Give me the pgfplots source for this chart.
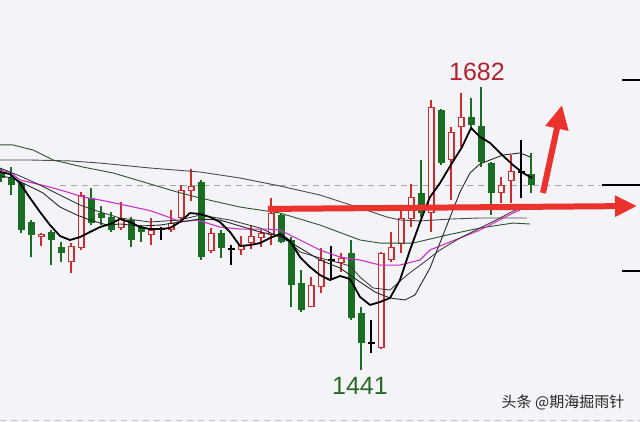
\documentclass[border=0pt]{standalone}
\usepackage{pgfplots}
\pgfplotsset{compat=1.18}
\usepackage{pgfplotstable}
\usepackage{fontspec}
\setmainfont{Liberation Sans}
\newfontfamily\cjk{Noto Sans CJK SC}
\usetikzlibrary{arrows.meta}

\definecolor{bgc}{RGB}{244,243,248}
\definecolor{upred}{RGB}{205,45,45}
\definecolor{dngreen}{RGB}{25,110,35}
\definecolor{magma}{RGB}{200,50,200}
\definecolor{ma60}{RGB}{40,85,45}
\definecolor{ma120}{RGB}{75,75,75}
\definecolor{arrowred}{RGB}{235,50,45}
\definecolor{hilab}{RGB}{178,34,45}
\definecolor{lolab}{RGB}{40,105,40}

% x = position, o h l c = open high low close
\pgfplotstableread{
x o h l c
1 1609 1613.2 1601.3 1604.7
11 1604.7 1614 1590.2 1598.7
21 1600.4 1601.3 1558 1560.5
31 1567.3 1569 1537.5 1556.2
51 1558.8 1560.5 1530.7 1552
61 1546 1550.3 1533.3 1541
91 1587.7 1596.2 1564.7 1566.4
101 1574.9 1580.9 1564.7 1570.7
111 1571.5 1575.8 1558.8 1560.5
131 1569 1571.5 1546 1552
141 1563 1564.7 1550.3 1558.8
201 1601.3 1603 1535 1537.5
221 1558 1560.5 1536.7 1545.2
281 1573.2 1574.9 1549.4 1550.3
291 1552 1554.5 1495 1513.7
301 1515.5 1526.5 1490.8 1492.5
351 1541 1552 1484 1485.7
361 1490 1495 1441.5 1464.4
421 1592 1620 1571.5 1574.9
441 1662.5 1663 1615.7 1617.4
471 1656.5 1672.7 1645.5 1649.7
481 1648.9 1682 1614 1618.3
491 1617.4 1618.3 1573.2 1592
531 1608.1 1626 1592 1598.7
}\downbars

\pgfplotstableread{
x o h l c
41 1554.5 1558 1546.9 1557.1
71 1533.3 1549.4 1524 1546.9
81 1545.2 1592.8 1543.5 1590.2
121 1562.2 1584.3 1560.5 1570.7
151 1556.2 1570.7 1547.7 1560.5
171 1560.5 1577.5 1558.8 1566.4
181 1570.7 1598.7 1569 1594.5
191 1593.6 1612.3 1585.1 1597.9
211 1542.6 1562.2 1541 1558
241 1543.5 1555.4 1539.2 1547.7
251 1549.4 1564.7 1544.3 1555.4
261 1553.7 1560.5 1546 1558
271 1556.2 1587.7 1547.7 1574.9
311 1495 1520.5 1495 1513.7
321 1512 1545.2 1507 1535
341 1532.4 1541 1524.8 1536.7
381 1460.2 1541.8 1459.3 1541
391 1535 1558.8 1533.3 1546
401 1548.6 1581.7 1541 1570.7
411 1569.8 1599.6 1563 1588.5
431 1574.9 1671 1558.8 1665
451 1620 1648 1586 1643.8
461 1648 1677 1631 1656.5
501 1592 1605.5 1583.4 1598.7
511 1602.1 1624.2 1583.4 1610.6
}\upbars

\pgfplotstableread{
x o h l c
161 1561.3 1563 1552 1560.5
231 1545.2 1547.7 1530.7 1543.5
331 1535.8 1546.9 1518 1534.1
371 1465.3 1484 1456 1463.6
521 1610.6 1637 1587.7 1609
}\dojis

\pgfplotsset{
  vbar/.style 2 args={draw=none, mark=none,
    error bars/.cd, y dir=plus, y explicit, error mark=none,
    error bar style={draw=#1, solid, line width=#2}},
}

\begin{document}
\begin{tikzpicture}
\begin{axis}[
  at={(0,0)}, anchor=south west,
  width=640pt, height=422pt, scale only axis,
  xmin=0, xmax=640, ymin=1397.3, ymax=1756,
  axis x line=none,
  axis y line*=right,
  axis line style={black!75, line width=0.8pt},
  xtick=\empty,
  ytick={1525.65,1688},
  yticklabels={},
  extra y ticks={1598.7},
  extra y tick labels={},
  extra y tick style={major tick length=38pt},
  tick align=inside,
  major tick length=18pt,
  tick style={black, line width=1.8pt},
  axis background/.style={fill=bgc},
]
% reference lines
\addplot[gray!70, line width=0.9pt, dash pattern=on 6pt off 5pt] coordinates {(60,1598.7) (600,1598.7)};
\addplot[gray!45, line width=0.8pt, dash pattern=on 6pt off 5pt] coordinates {(0,1399) (640,1399)};

% candles: wicks, then bodies
\addplot[vbar={dngreen}{1.2pt}] table[x=x, y=l, y error plus expr=\thisrow{h}-\thisrow{l}] {\downbars};
\addplot[vbar={dngreen}{7pt}] table[x=x, y=c, y error plus expr=\thisrow{o}-\thisrow{c}] {\downbars};
\addplot[vbar={upred}{1.2pt}] table[x=x, y=l, y error plus expr=\thisrow{h}-\thisrow{l}] {\upbars};
\addplot[vbar={upred}{7pt}] table[x=x, y=o, y error plus expr=\thisrow{c}-\thisrow{o}] {\upbars};
\addplot[vbar={bgc}{4.4pt}] table[x=x, y expr=\thisrow{o}+1.1, y error plus expr={max(\thisrow{c}-\thisrow{o}-2.2,0)}] {\upbars};
\addplot[vbar={black}{1.2pt}] table[x=x, y=l, y error plus expr=\thisrow{h}-\thisrow{l}] {\dojis};
\addplot[vbar={black}{7pt}] table[x=x, y=c, y error plus expr={max(\thisrow{o}-\thisrow{c},1.2)}] {\dojis};

% moving averages
\addplot[ma120, line width=0.9pt] coordinates {(0,1620) (30,1620) (70,1619.2) (100,1617.4) (150,1613.2) (200,1609.8) (240,1604.7) (280,1597.9) (320,1590.2) (360,1579.2) (387,1571.5) (400,1569) (420,1568.2) (450,1569.8) (480,1570.7) (527,1570.7)};
\addplot[ma60, line width=0.9pt] coordinates {(0,1632.8) (13,1632.8) (33,1628.5) (53,1620) (83,1614) (113,1609) (147,1600.4) (177,1592.8) (200,1587.7) (240,1580) (280,1574.9) (320,1564.7) (360,1552) (380,1549.4) (413,1549.4) (447,1556.2) (480,1562.2) (513,1566.4) (530,1565.6)};
\addplot[magma, line width=1.1pt] coordinates {(0,1611.5) (10,1609.8) (20,1603) (33,1600.4) (50,1597) (67,1592.8) (83,1588.5) (100,1586) (120,1582.5) (150,1577) (170,1571) (180,1567.3) (197,1569) (207,1566.4) (220,1563) (240,1561.3) (267,1561.3) (280,1560.5) (300,1552) (320,1543.5) (340,1537.5) (360,1535) (380,1530.7) (400,1530.7) (420,1535) (430,1543.5) (480,1560.5) (513,1574.9) (520,1577.5)};
\addplot[black!80, line width=0.8pt] coordinates {(0,1613.2) (20,1606.4) (40,1598.7) (60,1590.2) (80,1581.7) (100,1575.8) (120,1570.7) (150,1567.3) (180,1569) (200,1573.2) (230,1569) (260,1562.2) (290,1550.3) (300,1541.8) (320,1536.7) (340,1532.4) (350,1529.9) (360,1520.5) (373,1511.2) (390,1509.5) (407,1522.2) (423,1532.4) (440,1543.5) (460,1553.7) (480,1562.2) (500,1570.7) (513,1576.6) (525,1580)};
\addplot[black!85, line width=0.9pt] coordinates {(0,1606.4) (12,1604.7) (23,1600.4) (43,1592) (60,1580) (77,1573.2) (90,1569) (107,1564.7) (120,1565.6) (140,1563.9) (160,1564.7) (180,1567.3) (200,1569.8) (220,1569) (240,1563.9) (260,1558.8) (280,1555.4) (300,1545.2) (320,1535) (340,1528.2) (360,1516.3) (375,1507.8) (390,1502.7) (405,1501) (415,1505.3) (430,1528.2) (447,1564.7) (460,1592.8) (470,1609) (480,1616.6) (490,1620) (503,1624.2) (520,1626) (530,1622.6)};
\addplot[black, line width=1.8pt, line join=round] coordinates {(0,1609.8) (10,1608.1) (20,1600.4) (30,1587.7) (40,1575.8) (50,1564.7) (60,1555.4) (70,1552) (80,1554.5) (90,1558.8) (100,1563) (110,1565.6) (120,1569.8) (130,1567.3) (140,1563) (150,1561.3) (160,1561.3) (170,1562.2) (180,1567.3) (190,1574.9) (200,1574.1) (210,1571.5) (220,1567.3) (230,1558.8) (240,1546.9) (250,1547.7) (260,1549.4) (270,1553.7) (280,1557.1) (290,1551.2) (300,1537.5) (310,1529) (320,1522.2) (330,1518) (340,1521.4) (350,1518.9) (360,1503.6) (370,1496.8) (380,1499.3) (390,1502.7) (400,1518) (410,1543.5) (422,1571.5) (430,1588.5) (440,1600.4) (452,1617.4) (462,1631) (471,1647.2) (480,1639.6) (490,1634.5) (500,1626) (513,1615.7) (523,1609) (532,1604.7)};

% arrows and labels
\draw[arrowred, line width=6pt, -{Triangle[length=22pt,width=20pt]}] (axis cs:268,1578.4) -- (axis cs:637,1580.9);
\draw[arrowred, line width=6pt, -{Triangle[length=24pt,width=22pt]}] (axis cs:543,1592) -- (axis cs:562,1666.8);
\node[font=\fontsize{25}{25}\selectfont, text=hilab] at (axis cs:477,1694.8) {1682};
\node[font=\fontsize{25}{25}\selectfont, text=lolab] at (axis cs:360,1428.3) {1441};
\node[font=\cjk\fontsize{15}{15}\selectfont, text=black!85] at (axis cs:563,1414.3) {头条 @期海掘雨针};
\end{axis}
\pgfresetboundingbox
\useasboundingbox (0,0) rectangle (640pt,422pt);
\end{tikzpicture}
\end{document}
